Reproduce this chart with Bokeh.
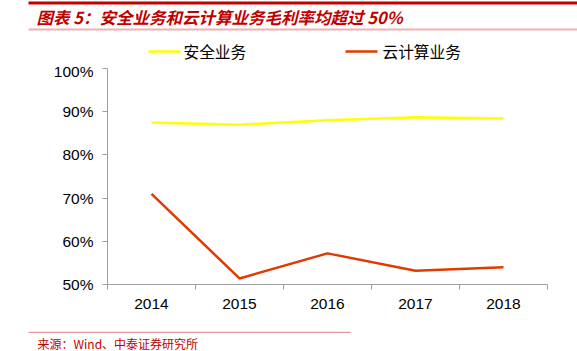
from bokeh.plotting import figure
from bokeh.layouts import column
from bokeh.models import FixedTicker, NumeralTickFormatter, Range1d
from bokeh.core.properties import value
from bokeh.embed import file_html
from bokeh.resources import INLINE

years = ["2014", "2015", "2016", "2017", "2018"]
security = [0.875, 0.870, 0.880, 0.887, 0.884]
cloud = [0.710, 0.514, 0.572, 0.532, 0.540]
y_ticks = [0.5, 0.6, 0.7, 0.8, 0.9, 1.0]
series_names = ["安全业务", "云计算业务"]
title_text = "图表 5：安全业务和云计算业务毛利率均超过 50%"
source_text = "来源：Wind、中泰证券研究所"

W = 577
HEAD_H, MAIN_H, FOOT_H = 62, 269, 20
CJK = "Noto Sans CJK SC"
RED = "#C00000"
YELLOW = "#FFFF00"
ORANGE = "#E03A00"
axis_color = "#A0A0A0"


def blank(h):
    f = figure(width=W, height=h, output_backend="svg", toolbar_location=None,
               x_range=Range1d(0, W), y_range=Range1d(h, 0),
               x_axis_location=None, y_axis_location=None,
               min_border=0, min_border_left=0, min_border_right=0,
               min_border_top=0, min_border_bottom=0, frame_align=False)
    f.outline_line_color = None
    f.xgrid.visible = False
    f.ygrid.visible = False
    return f


# ---- header: rule lines, title, legend (pixel coordinates)
head = blank(HEAD_H)
head.segment(x0=[28], y0=[2.5], x1=[W], y1=[2.5], line_color=RED, line_width=3)
head.segment(x0=[28], y0=[29], x1=[W], y1=[29], line_color="#EFB0B0", line_width=2)
head.text(x=[36], y=[16.5], text=[title_text], text_font=value(CJK),
          text_font_size="16.5px", text_font_style="bold italic",
          text_color=RED, text_baseline="middle")
head.segment(x0=[148, 345], y0=[51, 51], x1=[180, 377], y1=[51, 51],
             line_color=[YELLOW, ORANGE], line_width=2.5)
head.text(x=[183, 382], y=[51, 51], text=series_names, text_font=value(CJK),
          text_font_size="15.7px", text_color="#000000", text_baseline="middle")

# ---- main chart
p = figure(width=W, height=MAIN_H, output_backend="svg", toolbar_location=None,
           x_range=Range1d(0, len(years)), y_range=Range1d(0.5, 1.0),
           min_border_left=107, min_border_right=30, min_border_top=6, min_border_bottom=47,
           frame_align=False)
p.outline_line_color = None
p.xgrid.visible = False
p.ygrid.visible = False

xs = [i + 0.5 for i in range(len(years))]
p.line(xs, security, line_color=YELLOW, line_width=2.5)
p.line(xs, cloud, line_color=ORANGE, line_width=2.5)

xa = p.xaxis[0]
xa.ticker = FixedTicker(ticks=xs, minor_ticks=list(range(len(years) + 1)))
xa.major_label_overrides = {x: y for x, y in zip(xs, years)}
xa.major_tick_line_color = None
xa.minor_tick_line_color = axis_color
xa.minor_tick_out = 5
xa.minor_tick_in = 0
xa.axis_line_color = axis_color
xa.major_label_text_font = "Liberation Sans"
xa.major_label_text_font_size = "15.5px"
xa.major_label_text_color = "#000000"
xa.major_label_standoff = 8

ya = p.yaxis[0]
ya.ticker = FixedTicker(ticks=y_ticks, minor_ticks=[])
ya.formatter = NumeralTickFormatter(format="0%")
ya.major_tick_line_color = axis_color
ya.major_tick_out = 5
ya.major_tick_in = 0
ya.minor_tick_line_color = None
ya.axis_line_color = axis_color
ya.major_label_text_font = "Liberation Sans"
ya.major_label_text_font_size = "15.5px"
ya.major_label_text_color = "#000000"
ya.major_label_standoff = 9

# ---- footer
foot = blank(FOOT_H)
foot.segment(x0=[28], y0=[0.75], x1=[350], y1=[0.75], line_color="#E49A9A", line_width=1.5)
foot.text(x=[37], y=[11.5], text=[source_text], text_font=value(CJK),
          text_font_size="12px", text_color=RED, text_baseline="middle")

layout = column(head, p, foot, spacing=0)
open("out.html", "w").write(file_html(layout, INLINE))
